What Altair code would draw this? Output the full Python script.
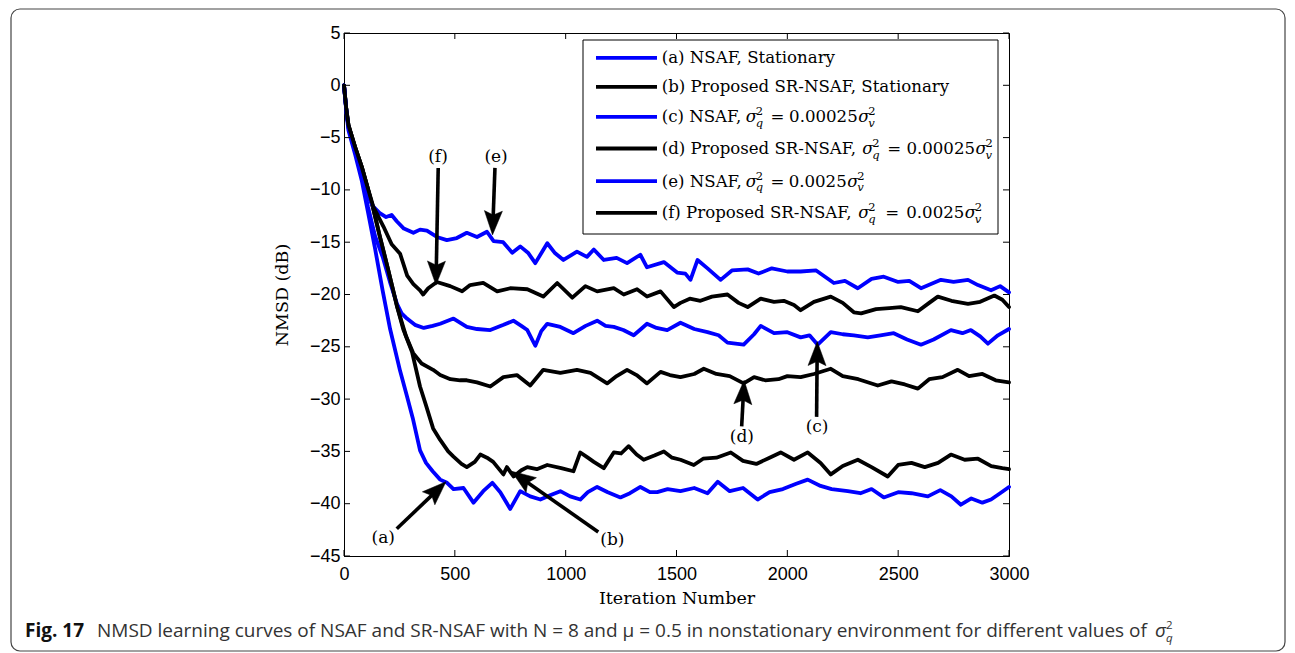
import math
import altair as alt
import pandas as pd

# ---------------- data ----------------
xticks = [0, 500, 1000, 1500, 2000, 2500, 3000]
yticks = [5, 0, -5, -10, -15, -20, -25, -30, -35, -40, -45]

a_it = [0, 10, 20, 50, 80, 108, 140, 175, 208, 253, 285, 310, 343, 370, 400, 434, 465, 494, 539, 584, 628, 669, 705, 750, 795, 840, 886, 930, 976, 1020, 1066, 1100, 1142, 1190, 1247, 1290, 1337, 1380, 1413, 1460, 1518, 1580, 1640, 1686, 1740, 1800, 1866, 1920, 1980, 2040, 2092, 2150, 2200, 2273, 2330, 2380, 2435, 2500, 2560, 2634, 2690, 2740, 2783, 2830, 2880, 2919, 2960, 3000]
a_db = [0, -2.4, -4.3, -6.6, -9.1, -12.1, -15.6, -19.7, -23.3, -27.3, -29.8, -31.8, -34.9, -36.1, -36.9, -37.7, -38.0, -38.6, -38.5, -39.9, -38.8, -38.0, -38.9, -40.5, -38.8, -39.3, -39.6, -39.2, -38.8, -39.3, -39.6, -38.9, -38.4, -38.9, -39.4, -39.0, -38.4, -38.9, -38.9, -38.6, -38.8, -38.5, -39.0, -37.9, -38.8, -38.5, -39.6, -38.9, -38.6, -38.1, -37.7, -38.3, -38.6, -38.8, -39.0, -38.6, -39.4, -38.9, -39.0, -39.3, -38.7, -39.3, -40.1, -39.5, -39.9, -39.6, -39.0, -38.4]

b_it = [0, 10, 20, 50, 80, 100, 132, 160, 200, 240, 267, 307, 343, 370, 402, 434, 470, 494, 530, 554, 590, 615, 645, 673, 719, 735, 765, 800, 827, 870, 917, 980, 1035, 1066, 1100, 1127, 1172, 1217, 1250, 1284, 1320, 1352, 1400, 1443, 1480, 1518, 1578, 1620, 1680, 1745, 1800, 1860, 1920, 1970, 2030, 2092, 2150, 2196, 2250, 2318, 2380, 2453, 2500, 2560, 2620, 2680, 2738, 2800, 2860, 2920, 2970, 3000]
b_db = [0, -2.2, -3.8, -5.9, -7.8, -9.3, -11.8, -14.3, -17.7, -21.2, -23.3, -25.5, -28.8, -30.6, -32.8, -33.9, -35.0, -35.5, -36.2, -36.5, -36.0, -35.3, -35.6, -36.0, -37.2, -36.5, -37.4, -36.8, -36.5, -36.7, -36.3, -36.6, -36.9, -35.1, -35.6, -36.0, -36.6, -35.1, -35.2, -34.5, -35.3, -35.8, -35.4, -35.0, -35.6, -35.8, -36.3, -35.7, -35.6, -35.1, -35.9, -36.2, -35.6, -35.1, -35.8, -35.1, -36.1, -37.2, -36.4, -35.8, -36.5, -37.4, -36.3, -36.1, -36.5, -36.1, -35.3, -35.8, -35.7, -36.4, -36.6, -36.7]

c_it = [0, 10, 20, 50, 80, 108, 140, 176, 210, 239, 260, 284, 320, 360, 400, 434, 494, 554, 600, 660, 720, 764, 800, 827, 863, 890, 917, 976, 1035, 1090, 1142, 1180, 1217, 1260, 1307, 1340, 1367, 1410, 1458, 1518, 1580, 1640, 1690, 1730, 1803, 1850, 1880, 1940, 2000, 2060, 2100, 2137, 2196, 2250, 2300, 2363, 2420, 2480, 2540, 2603, 2660, 2738, 2790, 2828, 2870, 2905, 2950, 3000]
c_db = [0, -2.3, -4.0, -6.3, -8.7, -11.6, -14.4, -16.5, -19.0, -20.9, -21.8, -22.3, -22.9, -23.2, -23.0, -22.8, -22.3, -23.1, -23.3, -23.4, -22.9, -22.5, -23.0, -23.4, -24.9, -23.5, -22.8, -23.1, -23.7, -23.0, -22.5, -23.0, -23.1, -23.4, -23.9, -23.3, -22.8, -23.2, -23.4, -22.7, -23.3, -23.6, -23.9, -24.6, -24.8, -23.8, -23.0, -23.7, -23.6, -24.1, -23.9, -24.8, -23.6, -23.8, -23.9, -24.1, -23.9, -23.7, -24.3, -24.8, -24.3, -23.4, -23.7, -23.4, -24.0, -24.7, -23.9, -23.3]

d_it = [0, 10, 20, 50, 80, 100, 132, 160, 200, 240, 280, 312, 350, 402, 434, 480, 524, 554, 600, 660, 719, 780, 840, 899, 976, 1051, 1112, 1187, 1230, 1277, 1320, 1367, 1428, 1470, 1518, 1580, 1623, 1680, 1740, 1803, 1850, 1900, 1960, 2000, 2060, 2120, 2196, 2250, 2320, 2408, 2470, 2530, 2589, 2640, 2700, 2769, 2820, 2880, 2940, 3000]
d_db = [0, -2.2, -3.8, -5.9, -7.8, -9.3, -11.8, -14.3, -17.7, -21.2, -24.0, -25.6, -26.6, -27.2, -27.7, -28.1, -28.2, -28.2, -28.4, -28.8, -27.9, -27.7, -28.7, -27.2, -27.5, -27.2, -27.5, -28.5, -27.8, -27.2, -27.7, -28.5, -27.4, -27.7, -27.9, -27.6, -27.1, -27.6, -27.8, -28.5, -27.9, -28.2, -28.1, -27.8, -27.9, -27.6, -27.1, -27.8, -28.1, -28.7, -28.3, -28.6, -29.0, -28.1, -27.9, -27.2, -27.8, -27.6, -28.2, -28.4]

e_it = [0, 10, 20, 50, 80, 108, 132, 160, 190, 215, 238, 270, 313, 343, 374, 419, 464, 509, 554, 600, 645, 675, 718, 759, 795, 830, 863, 917, 950, 990, 1051, 1096, 1127, 1172, 1230, 1277, 1337, 1367, 1443, 1503, 1540, 1563, 1595, 1640, 1699, 1750, 1821, 1870, 1930, 2000, 2060, 2130, 2210, 2260, 2318, 2380, 2435, 2500, 2550, 2603, 2693, 2750, 2815, 2860, 2919, 2960, 3000]
e_db = [0, -2.3, -4.0, -6.3, -8.6, -10.6, -11.6, -12.2, -12.6, -12.4, -13.0, -13.7, -14.1, -13.8, -13.9, -14.5, -14.8, -14.6, -14.1, -14.5, -14.0, -14.9, -15.0, -16.0, -15.4, -16.0, -17.0, -15.1, -16.0, -16.7, -15.9, -16.4, -15.7, -16.7, -16.5, -17.0, -16.2, -17.4, -16.9, -17.9, -18.0, -18.6, -16.7, -17.5, -18.6, -17.7, -17.6, -18.0, -17.5, -17.8, -17.8, -17.7, -18.9, -18.7, -19.4, -18.5, -18.3, -18.8, -18.7, -19.4, -18.6, -18.8, -18.6, -19.1, -19.6, -19.2, -19.8]

f_it = [0, 10, 20, 50, 80, 100, 132, 178, 215, 253, 285, 313, 343, 357, 380, 419, 479, 533, 569, 628, 691, 750, 827, 899, 962, 1030, 1089, 1142, 1217, 1262, 1322, 1367, 1428, 1488, 1518, 1560, 1608, 1660, 1730, 1780, 1821, 1880, 1940, 1984, 2030, 2060, 2120, 2196, 2250, 2300, 2333, 2400, 2460, 2512, 2589, 2640, 2679, 2740, 2815, 2870, 2934, 2970, 3000]
f_db = [0, -2.2, -3.8, -5.9, -7.8, -9.3, -11.6, -13.5, -15.2, -16.1, -18.2, -19.0, -19.6, -20.0, -19.4, -18.8, -19.2, -19.7, -19.1, -18.9, -19.7, -19.4, -19.5, -20.2, -18.9, -20.3, -19.2, -19.7, -19.4, -20.0, -19.5, -20.2, -19.7, -21.2, -20.8, -20.4, -20.6, -20.2, -20.0, -20.8, -21.2, -20.4, -20.7, -20.6, -21.0, -21.5, -20.7, -20.2, -20.8, -21.7, -21.8, -21.4, -21.3, -21.2, -21.6, -20.8, -20.2, -20.6, -20.9, -20.7, -20.1, -20.5, -21.2]

series_names = ["a", "b", "c", "d", "e", "f"]
series_colors = ["#0000ff", "#000000", "#0000ff", "#000000", "#0000ff", "#000000"]

legend_prefix = ["(a) NSAF, Stationary", "(b) Proposed SR-NSAF, Stationary",
                 "(c) NSAF,", "(d) Proposed SR-NSAF,", "(e) NSAF,", "(f) Proposed SR-NSAF,"]
legend_coef = ["", "", "0.00025", "0.00025", "0.0025", "0.0025"]

ann_label = ["(a)", "(b)", "(c)", "(d)", "(e)", "(f)"]
ann_label_x = [177, 1211, 2134, 1795, 686, 424]
ann_label_y = [-43.3, -43.5, -32.7, -33.6, -6.9, -6.9]
ann_tail_x = [238, 1147, 2132, 1794, 681, 425]
ann_tail_y = [-42.4, -42.7, -31.7, -32.6, -7.9, -7.9]
ann_tip_x = [460, 756, 2135, 1805, 670, 415]
ann_tip_y = [-37.9, -36.9, -24.5, -28.2, -14.3, -19.1]

caption_bold = "Fig. 17"
caption_text = ("NMSD learning curves of NSAF and SR-NSAF with N = 8 and \u03bc = 0.5 "
                "in nonstationary environment for different values of")

# ---------------- layout ----------------
W, H = 665, 523
PADL, PADT = 344, 33
PADR = 1295 - PADL - W
PADB = 653 - PADT - H
SERIF = "DejaVu Serif"
SANS = "Liberation Sans"
CAPF = "Open Sans"

xsc = alt.Scale(domain=[0, 3000], nice=False, zero=False)
ysc = alt.Scale(domain=[-45, 5], nice=False, zero=False)
xaxis = alt.Axis(values=xticks, title="Iteration Number", labelPadding=9, format="d",
                 titlePadding=6, labelFlush=False)
yaxis = alt.Axis(values=yticks, title="NMSD (dB)", labelPadding=4, format="d",
                 titlePadding=18, labelFlush=False)


def X(f):
    return alt.X(f, scale=xsc, axis=xaxis)


def Y(f):
    return alt.Y(f, scale=ysc, axis=yaxis)


rows = []
for name, its, dbs in zip(series_names, [a_it, b_it, c_it, d_it, e_it, f_it],
                          [a_db, b_db, c_db, d_db, e_db, f_db]):
    for i, d in zip(its, dbs):
        rows.append({"series": name, "iter": i, "db": d})
df = pd.DataFrame(rows)

lines = alt.Chart(df).mark_line(strokeWidth=3.8, strokeJoin="round", strokeCap="round").encode(
    x=X("iter:Q"), y=Y("db:Q"),
    color=alt.Color("series:N", scale=alt.Scale(domain=series_names, range=series_colors),
                    legend=None),
    detail="series:N",
)

# inward ticks on all four sides
xt = pd.DataFrame({"iter": xticks})
yt = pd.DataFrame({"db": yticks})
TK = 6
tick_layers = [
    alt.Chart(xt).mark_rule(color="black", strokeWidth=1).encode(
        x=X("iter:Q"), y=alt.value(H), y2=alt.value(H - TK)),
    alt.Chart(xt).mark_rule(color="black", strokeWidth=1).encode(
        x=X("iter:Q"), y=alt.value(0), y2=alt.value(TK)),
    alt.Chart(yt).mark_rule(color="black", strokeWidth=1).encode(
        y=Y("db:Q"), x=alt.value(0), x2=alt.value(TK)),
    alt.Chart(yt).mark_rule(color="black", strokeWidth=1).encode(
        y=Y("db:Q"), x=alt.value(W), x2=alt.value(W - TK)),
]

# annotations: arrows + labels
sx, sy = W / 3000.0, H / 50.0
HEAD = 24.0
arr = []
for lab, lx, ly, tx, ty, px, py in zip(ann_label, ann_label_x, ann_label_y, ann_tail_x,
                                       ann_tail_y, ann_tip_x, ann_tip_y):
    dx = (px - tx) * sx
    dy = -(py - ty) * sy
    L = math.hypot(dx, dy)
    ux, uy = dx / L, dy / L
    ex = px - 0.7 * HEAD * ux / sx
    ey = py + 0.7 * HEAD * uy / sy
    ang = math.degrees(math.atan2(dx, -dy)) % 360
    arr.append({"label": lab, "lx": lx, "ly": ly, "tx": tx, "ty": ty, "ex": ex, "ey": ey,
                "px": px, "py": py, "ang": ang})
adf = pd.DataFrame(arr)

shafts = alt.Chart(adf).mark_rule(color="black", strokeWidth=3.6).encode(
    x=X("tx:Q"), y=Y("ty:Q"), x2="ex:Q", y2="ey:Q")
heads = alt.Chart(adf).mark_point(
    shape="M0,0L0.75,2L0,1.65L-0.75,2Z", filled=True, fill="black", stroke="black",
    strokeWidth=0.5, opacity=1, size=HEAD * HEAD).encode(
    x=X("px:Q"), y=Y("py:Q"), angle=alt.Angle("ang:Q", scale=None))
ann_text = alt.Chart(adf).mark_text(font=SERIF, fontSize=17, align="center",
                                     baseline="middle", color="black").encode(
    x=X("lx:Q"), y=Y("ly:Q"), text="label:N")

# legend (drawn by hand so the math can be typeset)
one = pd.DataFrame({"k": [0]})
LB = dict(x0=239, x1=654, y0=7, y1=201)
legend_box = alt.Chart(one).mark_rect(fill="white", stroke="black", strokeWidth=1).encode(
    x=alt.value(LB["x0"]), x2=alt.value(LB["x1"]), y=alt.value(LB["y0"]), y2=alt.value(LB["y1"]))

base_y = [30.3, 59.3, 89.3, 121.0, 153.7, 185.3]
sw = pd.DataFrame({"series": series_names, "y": [b - 5.5 for b in base_y]})
swatches = alt.Chart(sw).mark_rule(strokeWidth=3.8).encode(
    x=alt.value(252), x2=alt.value(313),
    y=alt.Y("y:Q", scale=None, axis=None),
    color=alt.Color("series:N", scale=alt.Scale(domain=series_names, range=series_colors),
                    legend=None))

TX = 317.7
SH = 3.0
reg, regr, ital, sup, sub = [], [], [], [], []
for k in range(6):
    b = base_y[k]
    reg.append({"x": TX, "y": b, "t": legend_prefix[k]})
    if not legend_coef[k]:
        continue
    if k in (2, 4):
        s1, eq = 398.7, 423.5
        s2 = 512.7 if k == 2 else 501.7
    else:
        s1, eq = 515.3, 540.2
        s2 = 630.0 if k == 3 else 619.3
    if k == 5:
        s1 -= 4
        eq -= 2
    s1 += SH
    s2 += SH * 0.5
    eq += SH
    reg.append({"x": eq, "y": b, "t": "="})
    regr.append({"x": s2 - 0.5, "y": b, "t": legend_coef[k]})
    ital.append({"x": s1, "y": b, "t": "\u03c3"})
    ital.append({"x": s2, "y": b, "t": "\u03c3"})
    sup.append({"x": s1 + 10, "y": b - 7, "t": "2"})
    sup.append({"x": s2 + 10, "y": b - 7, "t": "2"})
    sub.append({"x": s1 + 10, "y": b + 4.5, "t": "q"})
    sub.append({"x": s2 + 10, "y": b + 4.5, "t": "v"})


def txt(rowsl, align="left", color="black", **kw):
    return alt.Chart(pd.DataFrame(rowsl)).mark_text(align=align, baseline="alphabetic",
                                                      color=color, **kw).encode(
        x=alt.X("x:Q", scale=None, axis=None), y=alt.Y("y:Q", scale=None, axis=None), text="t:N")


leg_reg = txt(reg, font=SERIF, fontSize=16.6)
leg_num = txt(regr, align="right", font=SERIF, fontSize=16.6)
leg_ital = txt(ital, font=SERIF, fontSize=16.6, fontStyle="italic")
leg_sup = txt(sup, font=SERIF, fontSize=11.5)
leg_sub = txt(sub, font=SERIF, fontSize=11.5, fontStyle="italic")

# outer frame and caption
frame = alt.Chart(one).mark_rect(fill=None, stroke="#444444", strokeWidth=1.2, cornerRadius=9).encode(
    x=alt.value(11 - PADL), x2=alt.value(1285 - PADL), y=alt.value(9 - PADT), y2=alt.value(651 - PADT))
CB = 637 - PADT
CFS = 19.0
cap_bold = txt([{"x": 25 - PADL, "y": CB, "t": caption_bold}], font=CAPF, fontSize=CFS,
               fontWeight="bold", color="#111111")
cap_main = txt([{"x": 97 - PADL, "y": CB, "t": caption_text}], font=CAPF, fontSize=CFS,
               color="#333333")
cap_sig = txt([{"x": 1155 - PADL, "y": CB, "t": "\u03c3"}], font=CAPF, fontSize=CFS,
              fontStyle="italic", color="#333333")
cap_sup = txt([{"x": 1166 - PADL, "y": CB - 8, "t": "2"}], font=CAPF, fontSize=11.5,
              color="#333333")
cap_sub = txt([{"x": 1166 - PADL, "y": CB + 5, "t": "q"}], font=CAPF, fontSize=11.5,
              fontStyle="italic", color="#333333")

chart = alt.layer(
    frame, lines, *tick_layers, shafts, heads, ann_text,
    legend_box, swatches, leg_reg, leg_num, leg_ital, leg_sup, leg_sub,
    cap_bold, cap_main, cap_sig, cap_sup, cap_sub,
).properties(
    width=W, height=H,
    autosize=alt.AutoSizeParams(type="none"),
    padding={"left": PADL, "top": PADT, "right": PADR, "bottom": PADB},
    background="white",
).configure_view(
    stroke="black", strokeWidth=1
).configure_axis(
    grid=False, ticks=False, domain=True, domainColor="black", domainWidth=1,
    labelFont=SANS, labelFontSize=18, labelColor="black",
    titleFont=SERIF, titleFontSize=17.5, titleFontWeight="normal", titleColor="black",
)

chart.save("out.html", embed_options={"renderer": "svg", "actions": False})
